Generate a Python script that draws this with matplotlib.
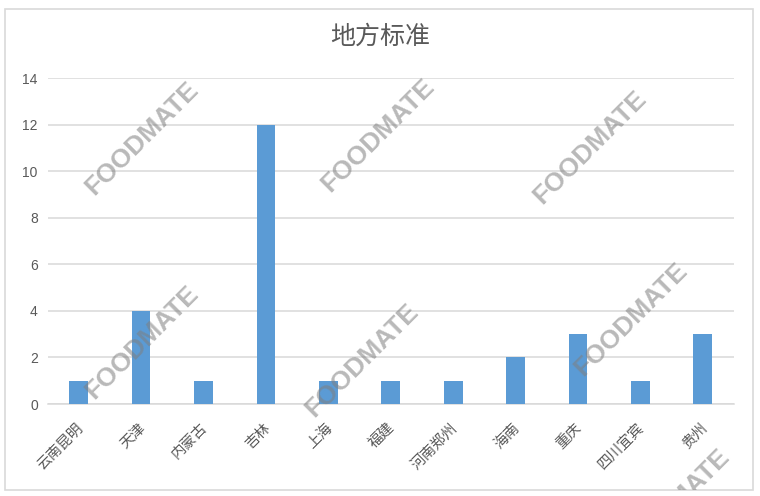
import matplotlib.pyplot as plt
from matplotlib.patches import Rectangle
from matplotlib.transforms import ScaledTranslation

plt.rcParams['font.family'] = ['Noto Sans CJK SC', 'DejaVu Sans']

# data
categories = ["云南昆明", "天津", "内蒙古", "吉林", "上海", "福建",
              "河南郑州", "海南", "重庆", "四川宜宾", "贵州"]
counts = [1, 4, 1, 12, 1, 1, 1, 2, 3, 1, 3]
y_ticks = [0, 2, 4, 6, 8, 10, 12, 14]

W, H = 760, 496
fig = plt.figure(figsize=(W / 100, H / 100), dpi=100)

# outer chart frame (no fill so the axes stay visible)
frame = Rectangle((5 / W, 1 - 490 / H), 748 / W, 481 / H, transform=fig.transFigure,
                  facecolor="none", edgecolor="#d9d9d9", linewidth=1.2, zorder=0)
fig.patches.append(frame)

ax = fig.add_axes([47.5 / W, 1 - 404 / H, 686.5 / W, 326 / H])
ax.set_facecolor("none")
x = range(len(categories))
ax.bar(x, counts, width=0.3, color="#5b9bd5", zorder=3)

ax.set_xlim(-0.5, len(categories) - 0.5)
ax.set_ylim(0, 14)
ax.set_yticks(y_ticks)
ax.set_yticklabels([str(t) for t in y_ticks], fontsize=10, color="#595959",
                   family=["Liberation Sans", "DejaVu Sans"])
ax.set_xticks(list(x))
ax.set_xticklabels(categories, rotation=45, ha="right", va="top",
                   rotation_mode="anchor", fontsize=10.5, color="#595959")
ax.tick_params(axis="y", length=0, pad=7)
ax.tick_params(axis="x", length=0, pad=12)
# nudge the slanted labels a little to the left
shift = ScaledTranslation(-3 / 100, 0, fig.dpi_scale_trans)
for lbl in ax.get_xticklabels():
    lbl.set_transform(lbl.get_transform() + shift)
ax.grid(axis="y", color="#d9d9d9", linewidth=1.1, zorder=0)
for side in ["top", "right", "left"]:
    ax.spines[side].set_visible(False)
ax.spines["bottom"].set_color("#d9d9d9")
ax.spines["bottom"].set_linewidth(1.1)

fig.text(380 / W, 1 - 37 / H, "地方标准", ha="center", va="center",
         fontsize=18, color="#595959")

# watermarks
marks = [(142, 138), (378, 135), (590, 147), (142, 342), (362, 360), (631, 319), (673, 505)]
for mx, my in marks:
    t = fig.text(mx / W, 1 - my / H, "FOODMATE", rotation=45, ha="center", va="center",
                 rotation_mode="anchor", fontsize=19, fontweight="bold",
                 color="#7f7f7f", alpha=0.55, family=["Liberation Sans", "DejaVu Sans"],
                 zorder=5)
    t.set_clip_path(frame)

fig.savefig("out.png", dpi=100)
